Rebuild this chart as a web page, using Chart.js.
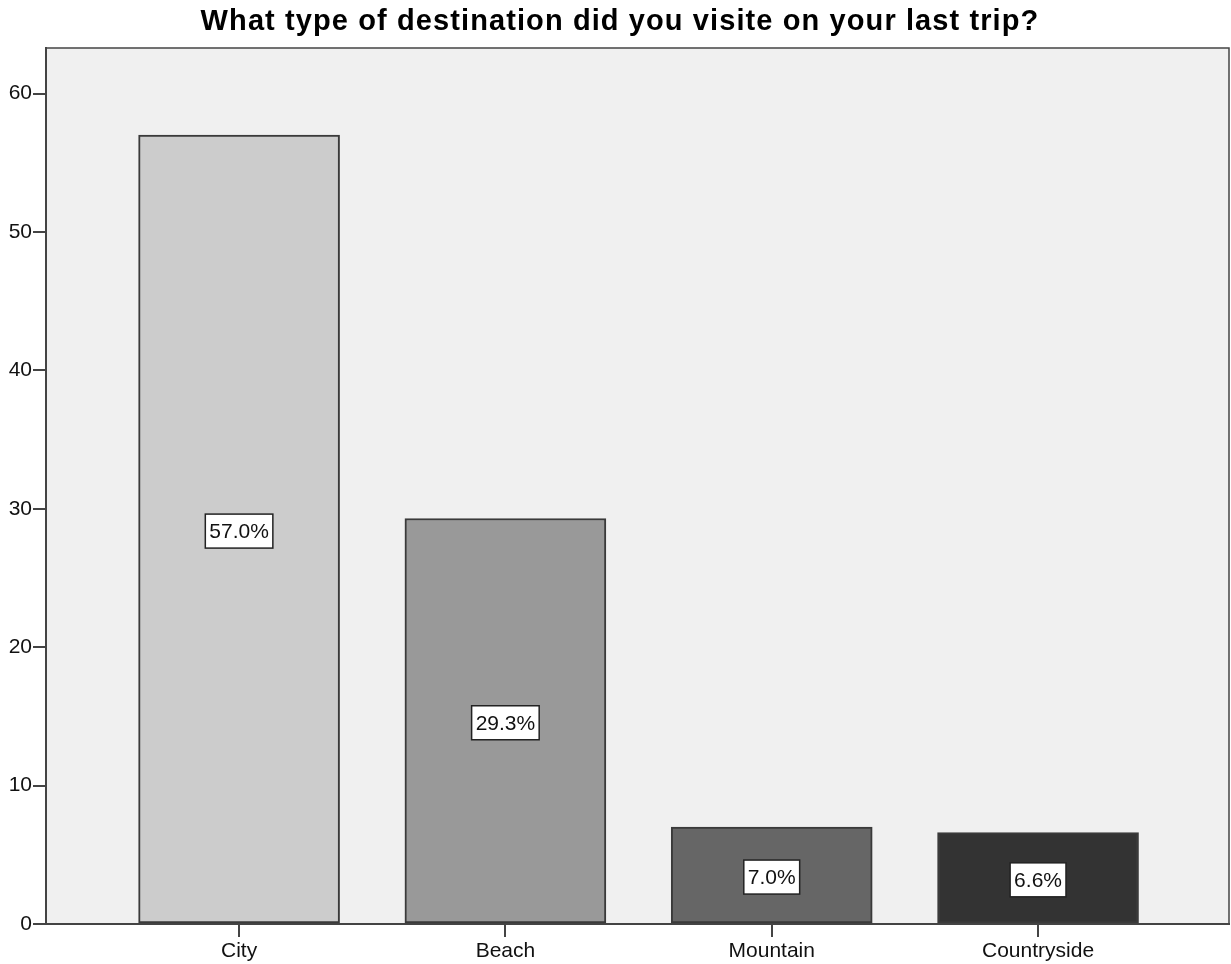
<!DOCTYPE html>
<html>
<head>
<meta charset="utf-8">
<script src="https://cdn.jsdelivr.net/npm/chart.js@4"></script>
<style>
html,body{margin:0;padding:0;background:#fff;}
#wrap{width:1231px;height:964px;position:relative;}
</style>
</head>
<body>
<div id="wrap"><canvas id="c" width="1231" height="964"></canvas></div>
<script>
const titleText = 'What type of destination did you visite on your last trip?';
const categories = ['City', 'Beach', 'Mountain', 'Countryside'];
const percents = [57.0, 29.3, 7.0, 6.6];
const barColors = ['#cccccc', '#999999', '#666666', '#333333'];
const yTicks = [0, 10, 20, 30, 40, 50, 60];

const FONT = '"Liberation Sans", Arial, sans-serif';

const bgPlugin = {
  id: 'bg',
  beforeDraw(chart) {
    const {ctx, chartArea: a} = chart;
    ctx.save();
    ctx.fillStyle = '#f0f0f0';
    ctx.fillRect(a.left, a.top, a.right - a.left, a.bottom - a.top);
    ctx.restore();
  },
  afterDraw(chart) {
    const {ctx, chartArea: a} = chart;
    ctx.save();
    ctx.strokeStyle = '#444';
    ctx.lineWidth = 1.5;
    ctx.beginPath();
    ctx.moveTo(a.left, a.top);
    ctx.lineTo(a.right, a.top);
    ctx.lineTo(a.right, a.bottom);
    ctx.stroke();
    // title
    ctx.fillStyle = '#000';
    ctx.font = 'bold 29px ' + FONT;
    ctx.textAlign = 'center';
    ctx.textBaseline = 'alphabetic';
    try { ctx.letterSpacing = '1.1px'; } catch (e) {}
    ctx.fillText(titleText, 620, 30);
    ctx.restore();
  }
};

const labelPlugin = {
  id: 'vlabels',
  afterDatasetsDraw(chart) {
    const {ctx} = chart;
    const meta = chart.getDatasetMeta(0);
    ctx.save();
    ctx.font = '21px ' + FONT;
    ctx.textAlign = 'center';
    ctx.textBaseline = 'middle';
    meta.data.forEach((bar, i) => {
      const txt = percents[i].toFixed(1) + '%';
      const cy = (bar.y + bar.base) / 2 + 2;
      const w = ctx.measureText(txt).width + 8;
      const h = 34;
      ctx.fillStyle = '#ffffff';
      ctx.fillRect(bar.x - w / 2, cy - h / 2, w, h);
      ctx.strokeStyle = '#222';
      ctx.lineWidth = 1.5;
      ctx.strokeRect(bar.x - w / 2, cy - h / 2, w, h);
      ctx.fillStyle = '#111';
      ctx.fillText(txt, bar.x, cy + 1);
    });
    ctx.restore();
  }
};

new Chart(document.getElementById('c'), {
  type: 'bar',
  data: {
    datasets: [{
      data: percents.map((v, i) => ({x: i, y: v})),
      backgroundColor: barColors,
      borderColor: '#3a3a3a',
      borderWidth: 2,
      borderSkipped: false,
      barThickness: 201
    }]
  },
  options: {
    responsive: false,
    animation: false,
    layout: {padding: {left: 0, right: 2, top: 48, bottom: 0}},
    plugins: {
      legend: {display: false},
      tooltip: {enabled: false},
      title: {display: false}
    },
    scales: {
      x: {
        type: 'linear',
        offset: false,
        min: -0.725,
        max: 3.717,
        afterBuildTicks(scale) { scale.ticks = categories.map((c, i) => ({value: i})); },
        afterFit(scale) { scale.height = 40; },
        grid: {display: true, offset: false, drawOnChartArea: false, drawTicks: true, tickLength: 13, color: '#444', lineWidth: 2},
        border: {display: true, color: '#444', width: 2},
        ticks: {
          autoSkip: false,
          maxRotation: 0,
          padding: 2,
          color: '#111',
          font: {family: FONT, size: 21},
          callback: (v) => categories[v] !== undefined ? categories[v] : ''
        }
      },
      y: {
        min: 0,
        max: 63.3,
        afterBuildTicks(scale) { scale.ticks = yTicks.map(v => ({value: v})); },
        afterFit(scale) { scale.width = 46; },
        grid: {display: true, drawOnChartArea: false, drawTicks: true, tickLength: 13, color: '#444', lineWidth: 2},
        border: {display: true, color: '#444', width: 2},
        ticks: {
          padding: 1,
          color: '#111',
          font: {family: FONT, size: 21}
        }
      }
    }
  },
  plugins: [bgPlugin, labelPlugin]
});
</script>
</body>
</html>
